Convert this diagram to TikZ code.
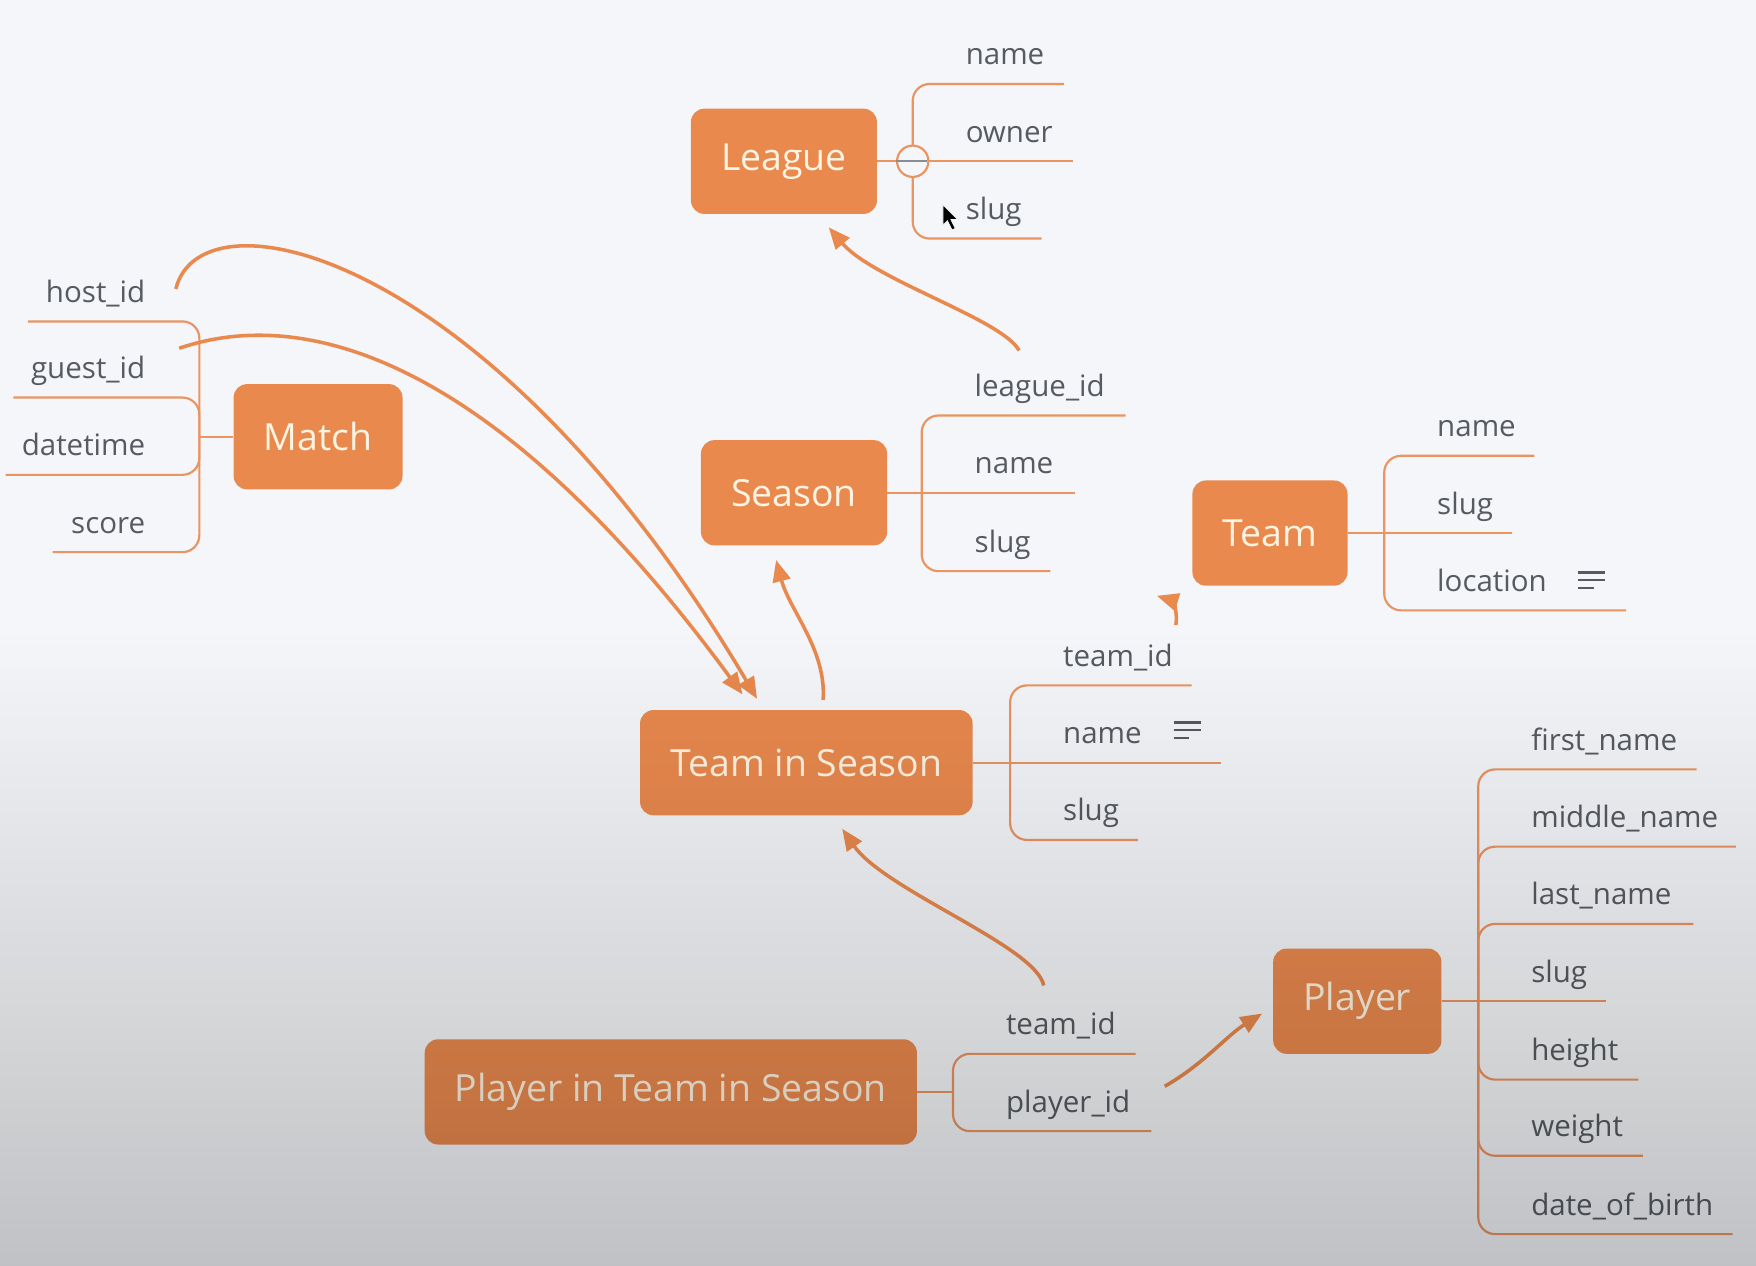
\documentclass[tikz,border=0pt]{standalone}
\usepackage{fontspec}
\setmainfont{Open Sans}
\usetikzlibrary{arrows.meta}
\definecolor{boxorange}{HTML}{E9894E}
\definecolor{branchorange}{HTML}{EA9462}
\definecolor{boxtext}{HTML}{FFF4E2}
\definecolor{fieldgray}{HTML}{575B61}
\definecolor{paper}{HTML}{F4F6F9}

\begin{document}
\begin{tikzpicture}[x=0.02cm, y=-0.02cm]
\tikzstyle{entity}=[fill=boxorange, text=boxtext, rounded corners=0.24cm,
  minimum height=1.88cm, inner xsep=0.54cm, font=\fontsize{19}{23}\selectfont]
\tikzstyle{field}=[text=fieldgray, inner sep=0pt, anchor=base west,
  font=\fontsize{15}{18}\selectfont]
\tikzstyle{branch}=[draw=branchorange, line width=1.1pt, rounded corners=0.3cm]
\tikzstyle{rel}=[draw=boxorange, line width=1.8pt,
  -{Triangle[length=11pt,width=9pt]}]
\tikzstyle{notes}=[draw=fieldgray, line width=1.3pt]

\useasboundingbox (0,0) rectangle (1568,1130);
\fill[paper] (0,0) rectangle (1568,1130);

% entities
\node[entity] (league) at (700,144) {League};
\node[entity] (match) at (284,390) {Match};
\node[entity] (season) at (709,440) {Season};
\node[entity] (team) at (1134,476) {Team};
\node[entity] (tis) at (720,681) {Team in Season};
\node[entity] (pits) at (599,975) {Player in Team in Season};
\node[entity] (player) at (1212,894) {Player};

% fields
\coordinate (league-hub) at (815,144);
\foreach \y/\x/\t [count=\i] in {75/950/name, 144/958/owner, 213/930/slug} {
  \coordinate (league-\i) at (\x,\y);
  \node[field] (league-\i-t) at (862,{\y-17}) {\t};
}
\draw[branch] (league) -- (league-2);
\foreach \i in {1,3} \draw[branch] (league-hub) |- (league-\i);

\coordinate (match-hub) at (178,390);
\foreach \y/\x/\t [count=\i] in {287/25/host\_id, 355/12/guest\_id,
    424/5/datetime, 493/47/score} {
  \coordinate (match-\i) at (\x,\y);
  \node[field, anchor=base east] (match-\i-t) at (130,{\y-17}) {\t};
}
\draw[branch] (match) -- (match-hub);
\foreach \i in {1,...,4} \draw[branch] (match-hub) |- (match-\i);

\coordinate (season-hub) at (823,440);
\foreach \y/\x/\t [count=\i] in {371/1005/league\_id, 440/960/name, 510/938/slug} {
  \coordinate (season-\i) at (\x,\y);
  \node[field] (season-\i-t) at (870,{\y-17}) {\t};
}
\draw[branch] (season) -- (season-2);
\foreach \i in {1,3} \draw[branch] (season-hub) |- (season-\i);

\coordinate (team-hub) at (1236,476);
\foreach \y/\x/\t [count=\i] in {407/1370/name, 476/1350/slug, 545/1452/location} {
  \coordinate (team-\i) at (\x,\y);
  \node[field] (team-\i-t) at (1283,{\y-17}) {\t};
}
\draw[branch] (team) -- (team-2);
\foreach \i in {1,3} \draw[branch] (team-hub) |- (team-\i);

\coordinate (tis-hub) at (902,681);
\foreach \y/\x/\t [count=\i] in {612/1064/team\_id, 681/1090/name, 750/1016/slug} {
  \coordinate (tis-\i) at (\x,\y);
  \node[field] (tis-\i-t) at (949,{\y-17}) {\t};
}
\draw[branch] (tis) -- (tis-2);
\foreach \i in {1,3} \draw[branch] (tis-hub) |- (tis-\i);

\coordinate (pits-hub) at (851,975);
\foreach \y/\x/\t [count=\i] in {941/1014/team\_id, 1010/1028/player\_id} {
  \coordinate (pits-\i) at (\x,\y);
  \node[field] (pits-\i-t) at (898,{\y-17}) {\t};
}
\draw[branch] (pits) -- (pits-hub);
\foreach \i in {1,2} \draw[branch] (pits-hub) |- (pits-\i);

\coordinate (player-hub) at (1320,894);
\foreach \y/\x/\t [count=\i] in {687/1515/first\_name, 756/1550/middle\_name,
    825/1512/last\_name, 894/1434/slug, 964/1463/height, 1032/1467/weight,
    1102/1547/date\_of\_birth} {
  \coordinate (player-\i) at (\x,\y);
  \node[field] (player-\i-t) at (1367,{\y-17}) {\t};
}
\draw[branch] (player) -- (player-4);
\foreach \i in {1,2,3,5,6,7} \draw[branch] (player-hub) |- (player-\i);

% fold marker, notes icons, pointer
\node[circle, draw=branchorange, fill=paper, line width=1.1pt,
  minimum size=0.56cm, inner sep=0pt] (league-fold) at (league-hub) {};
\draw[fieldgray!70, line width=1pt] (league-fold.west) ++(0.1,0) -- ([xshift=-1.5pt]league-fold.east);
\draw[notes] (1048,645) -- ++(24,0) (1048,652) -- ++(24,0) (1048,659) -- ++(14,0);
\draw[notes] (1409,511) -- ++(24,0) (1409,518) -- ++(24,0) (1409,525) -- ++(14,0);
\fill[black, draw=white, line width=0.3pt] (842,183) -- (842,201) -- (846,197)
  -- (850,205) -- (853,204) -- (849,196) -- (855,196) -- cycle;

% relationships
\coordinate (season-ref) at (910,313);
\coordinate (league-in) at (740,203);
\coordinate (host-ref) at (157,258);
\coordinate (guest-ref) at (160,311);
\coordinate (tis-in-host) at (676,624);
\coordinate (tis-in-guest) at (663,620);
\coordinate (tis-ref) at (735,625);
\coordinate (season-in) at (693,500);
\coordinate (tis-team-ref) at (1050,558);
\coordinate (team-in) at (1033,532);
\coordinate (pits-team-ref) at (932,880);
\coordinate (tis-in) at (752,740);
\coordinate (pits-player-ref) at (1040,970);
\coordinate (player-in) at (1127,905);

\draw[rel] (season-ref) .. controls (895,285) and (780,250) .. (league-in);
\draw[rel] (host-ref) .. controls (180,165) and (440,225) .. (tis-in-host);
\draw[rel] (guest-ref) .. controls (280,270) and (450,330) .. (tis-in-guest);
\draw[rel] (tis-ref) .. controls (738,580) and (705,545) .. (season-in);
\draw[rel] (tis-team-ref) .. controls (1052,545) and (1046,536) .. (team-in);
\draw[rel] (pits-team-ref) .. controls (925,845) and (790,795) .. (tis-in);
\draw[rel] (pits-player-ref) .. controls (1075,950) and (1095,925) .. (player-in);

% darker lower part
\begin{scope}[blend mode=multiply]
\shade[top color=white, bottom color=black!21] (0,560) rectangle (1568,1130);
\end{scope}
\end{tikzpicture}
\end{document}
